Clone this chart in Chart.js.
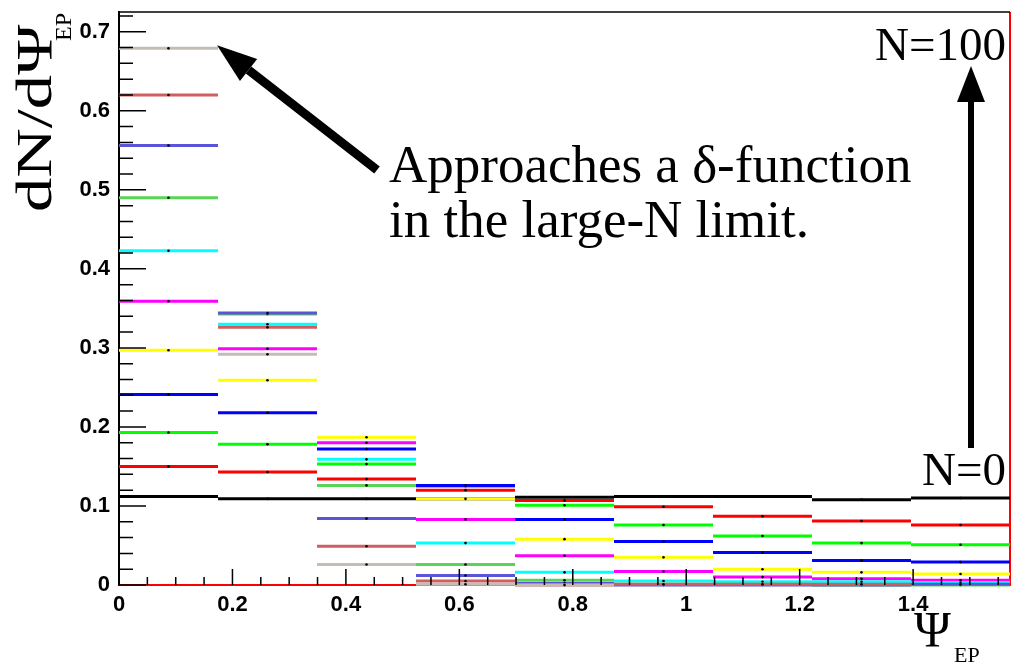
<!DOCTYPE html>
<html lang="en">
<head>
<meta charset="UTF-8" />
<title>dN/dΨ_EP</title>
<script src="https://cdn.jsdelivr.net/npm/chart.js"></script>
<style>
  html, body { margin: 0; padding: 0; background: #fff; }
  #plot { display: block; }
</style>
</head>
<body>
<canvas id="plot" width="1014" height="665"></canvas>
<script>
// Event-plane angle distributions, one histogram per multiplicity N
const X_MAX = Math.PI / 2;
const N_BINS = 9;
const Y_MAX = 0.725;

const multiplicities = [0, 10, 20, 30, 40, 50, 60, 70, 80, 90, 100];
const hN0   = [0.112, 0.109, 0.109, 0.109, 0.111, 0.112, 0.112, 0.108, 0.110];
const hN10  = [0.150, 0.143, 0.134, 0.120, 0.107, 0.099, 0.087, 0.081, 0.076];
const hN20  = [0.193, 0.178, 0.153, 0.125, 0.101, 0.076, 0.062, 0.053, 0.051];
const hN30  = [0.241, 0.218, 0.172, 0.126, 0.083, 0.055, 0.041, 0.031, 0.029];
const hN40  = [0.297, 0.259, 0.187, 0.109, 0.058, 0.035, 0.020, 0.016, 0.014];
const hN50  = [0.359, 0.299, 0.180, 0.083, 0.037, 0.017, 0.010, 0.008, 0.006];
const hN60  = [0.423, 0.330, 0.159, 0.053, 0.016, 0.005, 0.004, 0.004, 0.003];
const hN70  = [0.490, 0.343, 0.126, 0.026, 0.006, 0.001, 0.001, 0.000, 0.000];
const hN80  = [0.556, 0.344, 0.084, 0.012, 0.002, 0.000, 0.000, 0.000, 0.001];
const hN90  = [0.620, 0.326, 0.049, 0.005, 0.000, 0.001, 0.001, 0.001, null];
const hN100 = [0.679, 0.292, 0.026, 0.001, 0.000, null, null, null, null];
const histograms = [hN0, hN10, hN20, hN30, hN40, hN50, hN60, hN70, hN80, hN90, hN100];
const histColors = ['#000000', '#ff0000', '#00ff00', '#0000ff', '#ffff00', '#ff00ff',
                    '#00ffff', '#59d454', '#5954d8', '#cf5e61', '#c4bdb6'];

const xTicks = [0, 0.2, 0.4, 0.6, 0.8, 1, 1.2, 1.4];
const yTicks = [0, 0.1, 0.2, 0.3, 0.4, 0.5, 0.6, 0.7];

const binWidth = X_MAX / N_BINS;
const serif = '"Liberation Serif", "Times New Roman", serif';

// horizontal bar per bin, with a null point so bins are not joined
function histPoints(values) {
  const pts = [];
  values.forEach((v, i) => {
    if (v === null) return;
    const lo = i * binWidth;
    pts.push({ x: lo, y: v }, { x: lo + binWidth / 2, y: v, mid: true },
             { x: lo + binWidth, y: v }, { x: lo + binWidth, y: null });
  });
  return pts;
}

const datasets = histograms.map((h, i) => ({
  label: 'N=' + multiplicities[i],
  data: histPoints(h),
  borderColor: histColors[i],
  borderWidth: 3,
  pointRadius: ctx => (ctx.raw && ctx.raw.mid ? 1.3 : 0),
  pointBackgroundColor: '#000',
  pointBorderWidth: 0,
  spanGaps: false,
  clip: 4
})).reverse(); // higher N drawn on top

// empty red histogram: runs along zero and up the right edge
datasets.push({
  label: 'empty',
  data: [{ x: 0, y: 0 }, { x: X_MAX, y: 0 }, { x: X_MAX, y: Y_MAX }],
  borderColor: '#ff0000',
  borderWidth: 2,
  pointRadius: 0,
  clip: 4
});

const frameAndText = {
  id: 'frameAndText',
  afterDatasetsDraw(chart) {
    const { ctx, chartArea: a, scales: { x, y } } = chart;
    ctx.save();
    ctx.strokeStyle = '#000';
    ctx.lineWidth = 1.5;
    ctx.beginPath();
    ctx.moveTo(a.left, a.top);
    ctx.lineTo(a.right, a.top);
    ctx.stroke();

    // inward ticks, ROOT style
    ctx.beginPath();
    for (let i = 0; i < yTicks.length; i++) {
      for (let k = 0; k < 5; k++) {
        const v = yTicks[i] + k * 0.02;
        if (v > Y_MAX) break;
        const py = y.getPixelForValue(v);
        ctx.moveTo(a.left, py);
        ctx.lineTo(a.left + (k === 0 ? 27 : 14), py);
      }
    }
    for (let i = 0; i < xTicks.length; i++) {
      for (let k = 0; k < 4; k++) {
        const v = xTicks[i] + k * 0.05;
        if (v > X_MAX) break;
        const px = x.getPixelForValue(v);
        ctx.moveTo(px, a.bottom);
        ctx.lineTo(px, a.bottom - (k === 0 ? 16 : 8));
      }
    }
    ctx.stroke();
    ctx.restore();
  },
  afterDraw(chart) {
    const { ctx, scales: { x, y } } = chart;
    ctx.save();
    ctx.fillStyle = '#000';
    ctx.strokeStyle = '#000';

    // y axis title, stretched along its length
    ctx.save();
    ctx.translate(51, 212);
    ctx.rotate(-Math.PI / 2);
    ctx.save();
    ctx.scale(1.37, 1);
    ctx.font = '50px ' + serif;
    ctx.fillText('dN/d\u03A8', 0, 0);
    ctx.restore();
    ctx.font = '24px ' + serif;
    ctx.fillText('EP', 171, 20);
    ctx.restore();

    // x axis title
    ctx.font = '50px ' + serif;
    ctx.fillText('\u03A8', 914, 646);
    ctx.font = '22px ' + serif;
    ctx.fillText('EP', 954, 662);

    // annotation text
    ctx.font = '53px ' + serif;
    ctx.fillText('Approaches a \u03B4-function', 389, 182);
    ctx.fillText('in the large-N limit.', 389, 237);
    ctx.textAlign = 'right';
    ctx.font = '47px ' + serif;
    ctx.fillText('N=100', 1006, 60);
    ctx.fillText('N=0', 1006, 485);

    // arrow to the first bin of the highest-N histogram
    const tipX = x.getPixelForValue(binWidth) - 1;
    const tipY = y.getPixelForValue(hN100[0]) - 3;
    drawArrow(ctx, 377, 170, tipX, tipY, 9, 40, 14);
    // arrow pointing up from N=0 to N=100
    drawArrow(ctx, 971, 448, 971, 66, 6, 36, 14);
    ctx.restore();
  }
};

function drawArrow(ctx, x0, y0, x1, y1, shaft, headLen, headHalf) {
  const ang = Math.atan2(y1 - y0, x1 - x0);
  const bx = x1 - headLen * Math.cos(ang), by = y1 - headLen * Math.sin(ang);
  ctx.lineWidth = shaft;
  ctx.lineCap = 'butt';
  ctx.beginPath();
  ctx.moveTo(x0, y0);
  ctx.lineTo(bx, by);
  ctx.stroke();
  const nx = -Math.sin(ang) * headHalf, ny = Math.cos(ang) * headHalf;
  ctx.beginPath();
  ctx.moveTo(x1, y1);
  ctx.lineTo(bx + nx, by + ny);
  ctx.lineTo(bx - nx, by - ny);
  ctx.closePath();
  ctx.fill();
}

const tickFont = { family: '"Liberation Sans", Arial, sans-serif', weight: 'bold', size: 22 };
const fmt = v => (v === 0 ? '0' : String(+v.toFixed(1)));

new Chart(document.getElementById('plot').getContext('2d'), {
  type: 'line',
  data: { datasets },
  options: {
    responsive: false,
    animation: false,
    devicePixelRatio: 1,
    layout: { padding: { left: 0, right: 4, top: 12, bottom: 0 } },
    elements: { line: { tension: 0 } },
    plugins: { legend: { display: false }, tooltip: { enabled: false } },
    scales: {
      x: {
        type: 'linear', min: 0, max: X_MAX,
        grid: { display: true, drawOnChartArea: false, drawTicks: false },
        border: { display: true, color: '#000', width: 2 },
        ticks: { font: tickFont, color: '#000', padding: 7, maxRotation: 0, autoSkip: false, callback: fmt },
        afterBuildTicks: s => { s.ticks = xTicks.map(v => ({ value: v })); },
        afterFit: s => { s.height = 80; s.paddingLeft = 0; s.paddingRight = 0; }
      },
      y: {
        type: 'linear', min: 0, max: Y_MAX,
        grid: { display: true, drawOnChartArea: false, drawTicks: false },
        border: { display: true, color: '#000', width: 2 },
        ticks: { font: tickFont, color: '#000', padding: 9, callback: fmt },
        afterBuildTicks: s => { s.ticks = yTicks.map(v => ({ value: v })); },
        afterFit: s => { s.width = 119; s.paddingTop = 0; s.paddingBottom = 0; }
      }
    }
  },
  plugins: [frameAndText]
});
</script>
</body>
</html>
